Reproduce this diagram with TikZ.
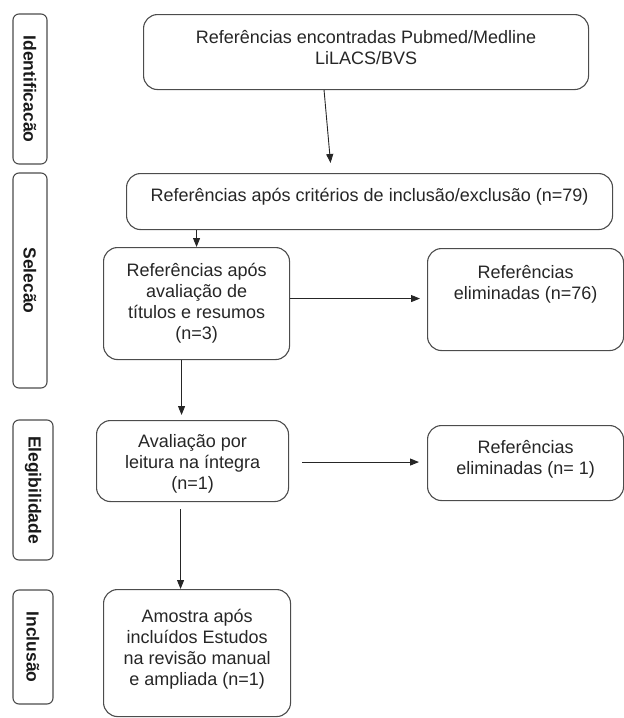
\documentclass[tikz,border=0pt]{standalone}
\usepackage{fontspec}
\setmainfont{Liberation Sans}
\usetikzlibrary{arrows.meta,calc}
\tikzset{
  fluxo/.style={draw=black!70,line width=1.1pt,rounded corners=14pt,inner sep=0pt,anchor=north west,text=black!85},
  fase/.style={draw=black!70,line width=1.1pt,rounded corners=6pt,inner sep=0pt,rotate=-90,font=\fontsize{17.5}{20}\selectfont\bfseries,text=black!90},
  arr/.style={-{Triangle[length=9pt,width=7pt]},line width=0.9pt,black!85}
}
\newcommand{\caixa}[4]{\parbox[c][#2pt][t]{#1pt}{\centering\fontsize{18}{21}\selectfont\vspace*{#3pt}\strut #4}}

\begin{document}
\begin{tikzpicture}[x=1pt,y=-1pt]
  \useasboundingbox (0,0) rectangle (624,718);
  % fases
  \node[fase,minimum width=150pt,minimum height=34pt] (ident) at (30,89) {Identificacão};
  \node[fase,minimum width=215pt,minimum height=34pt] (selec) at (30,280.5) {Selecão};
  \node[fase,minimum width=140pt,minimum height=40pt] (eleg) at (33,490) {Elegibilidade};
  \node[fase,minimum width=114pt,minimum height=40pt] (incl) at (33,647) {Inclusão};

  % caixas
  \node[fluxo] (busca) at (143,14) {\caixa{445}{75}{13.8}{Referências encontradas Pubmed/Medline\\LiLACS/BVS}};
  \node[fluxo] (criterios) at (126,173) {\caixa{486}{56}{12.8}{Referências após critérios de inclusão/exclusão (n=79)}};
  \node[fluxo] (titulos) at (103,247) {\caixa{186}{112}{14.3}{Referências após\\avaliação de\\títulos e resumos\\(n=3)}};
  \node[fluxo] (elim1) at (427,248) {\caixa{196}{102}{15.5}{Referências\\eliminadas (n=76)}};
  \node[fluxo] (leitura) at (96,420) {\caixa{192}{81}{11.8}{Avaliação por\\leitura na íntegra\\(n=1)}};
  \node[fluxo] (elim2) at (427,425) {\caixa{196}{75}{12.8}{Referências\\eliminadas (n= 1)}};
  \node[fluxo] (amostra) at (103,589) {\caixa{187}{127}{17.8}{Amostra após\\incluídos Estudos\\na revisão manual\\e ampliada (n=1)}};

  % setas
  \draw[arr] ($(busca.south)+(-42pt,0)$) -- ($(criterios.north)+(-39pt,10pt)$);
  \draw[arr] (titulos.north |- criterios.south) -- (titulos.north);
  \draw[arr] ($(titulos.east)+(0,5pt)$) -- ($(titulos.east -| elim1.west)+(-7pt,5pt)$);
  \draw[arr] ($(titulos.south)+(-15pt,0)$) -- ($(titulos.south |- leitura.north)+(-15pt,5pt)$);
  \draw[arr] ($(leitura.east)+(13pt,-1pt)$) -- ($(leitura.east -| elim2.west)+(-8pt,-1pt)$);
  \draw[arr] ($(leitura.south)+(-12pt,-7pt)$) -- ($(leitura.south |- amostra.north)+(-12pt,0)$);
\end{tikzpicture}
\end{document}
